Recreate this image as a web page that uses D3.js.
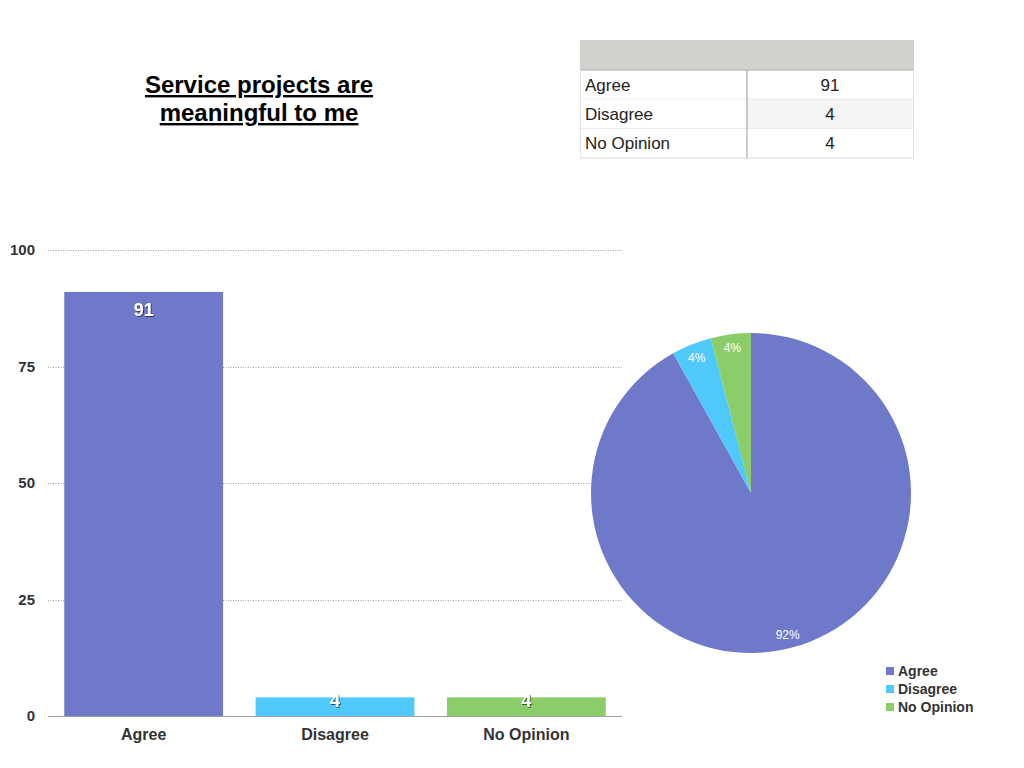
<!DOCTYPE html>
<html><head><meta charset="utf-8">
<script src="https://cdn.jsdelivr.net/npm/d3@7"></script>
<style>body{margin:0;background:#fff;} svg{display:block;font-family:"Liberation Sans",Arial,Helvetica,sans-serif;}</style>
</head><body>
<svg id="c" width="1024" height="768"></svg>
<script>
const categories = ["Agree", "Disagree", "No Opinion"];
const values = [91, 4, 4];
const pieLabels = ["92%", "4%", "4%"];
const yTicks = [0, 25, 50, 75, 100];
const colors = ["#6f79c9", "#4fc9fa", "#8bcd68"];
const titleLines = ["Service projects are", "meaningful to me"];

const svg = d3.select("#c");

// Title
const title = svg.append("text").attr("text-anchor", "middle")
  .attr("font-weight", "bold").attr("font-size", 24).attr("fill", "#000")
  .attr("text-decoration", "underline");
titleLines.forEach((t, i) => title.append("tspan").attr("x", 259).attr("y", 93 + i * 28).text(t));

// Table
const tx0 = 580, tx1 = 914, tcol = 747;
svg.append("rect").attr("x", tx0).attr("y", 40).attr("width", tx1 - tx0).attr("height", 30).attr("fill", "#d1d1cd");
const rowY = d3.scaleBand().domain(categories).range([70, 158]);
categories.forEach((c, i) => {
  const y = rowY(c), h = rowY.bandwidth();
  svg.append("rect").attr("x", tx0).attr("y", y).attr("width", tcol - tx0).attr("height", h).attr("fill", "#fff");
  svg.append("rect").attr("x", tcol).attr("y", y).attr("width", tx1 - tcol).attr("height", h).attr("fill", i === 1 ? "#f6f5f5" : "#fff");
  svg.append("line").attr("x1", tx0).attr("x2", tx1).attr("y1", y + h).attr("y2", y + h).attr("stroke", "#dcdcdc");
  svg.append("text").attr("x", 585).attr("y", y + h / 2 + 6).attr("font-size", 17).attr("fill", "#222").text(c);
  svg.append("text").attr("x", 830).attr("y", y + h / 2 + 6).attr("font-size", 17).attr("fill", "#222").attr("text-anchor", "middle").text(values[i]);
});
svg.append("line").attr("x1", tx0).attr("x2", tx1).attr("y1", 70).attr("y2", 70).attr("stroke", "#aaa");
svg.append("line").attr("x1", tcol).attr("x2", tcol).attr("y1", 70).attr("y2", 158).attr("stroke", "#999");
svg.append("line").attr("x1", tx0 + 0.5).attr("x2", tx0 + 0.5).attr("y1", 70).attr("y2", 158).attr("stroke", "#e4e4e4");
svg.append("line").attr("x1", tx1 - 0.5).attr("x2", tx1 - 0.5).attr("y1", 70).attr("y2", 158).attr("stroke", "#e4e4e4");

// Bar chart
const x = d3.scaleBand().domain(categories).range([48, 622]).paddingInner(0.17).paddingOuter(0.085);
const y = d3.scaleLinear().domain([0, 100]).range([716, 250]);

const grid = svg.append("g");
yTicks.filter(t => t > 0).forEach(t => {
  grid.append("line").attr("x1", 48).attr("x2", 622).attr("y1", Math.round(y(t)) + 0.5).attr("y2", Math.round(y(t)) + 0.5)
    .attr("stroke", "#a0a0a0").attr("stroke-width", 1).attr("stroke-dasharray", "1,1.5");
});

const yAxis = svg.append("g").attr("transform", "translate(35,0)")
  .call(d3.axisLeft(y).tickValues(yTicks).tickSize(0).tickPadding(0));
yAxis.select(".domain").remove();
yAxis.selectAll("text").attr("font-size", 15).attr("font-weight", "bold").attr("fill", "#333")
  .attr("font-family", "Liberation Sans, Arial, sans-serif");

svg.selectAll("rect.bar").data(values).enter().append("rect").attr("class", "bar")
  .attr("x", (d, i) => x(categories[i])).attr("width", x.bandwidth())
  .attr("y", d => y(d)).attr("height", d => y(0) - y(d))
  .attr("fill", (d, i) => colors[i]);

svg.append("line").attr("x1", 48).attr("x2", 622).attr("y1", 716.5).attr("y2", 716.5).attr("stroke", "#a0a0a0");

const xAxis = svg.append("g").attr("transform", "translate(0,716)")
  .call(d3.axisBottom(x).tickSize(0).tickPadding(13));
xAxis.select(".domain").remove();
xAxis.selectAll("text").attr("font-size", 16).attr("font-weight", "bold").attr("fill", "#333")
  .attr("font-family", "Liberation Sans, Arial, sans-serif");

const defs = svg.append("defs");
const f = defs.append("filter").attr("id", "sh").attr("x", "-50%").attr("y", "-50%").attr("width", "200%").attr("height", "200%");
f.append("feDropShadow").attr("dx", 0.8).attr("dy", 0.8).attr("stdDeviation", 0.6).attr("flood-color", "#000").attr("flood-opacity", 0.75);

svg.selectAll("text.bl").data(values).enter().append("text").attr("class", "bl")
  .attr("x", (d, i) => x(categories[i]) + x.bandwidth() / 2)
  .attr("y", d => d > 20 ? y(d) + 24 : y(d) + 10)
  .attr("text-anchor", "middle").attr("font-size", 18).attr("font-weight", "bold")
  .attr("fill", "#fff").attr("filter", "url(#sh)").text(d => d);

// Pie
const cx = 751, cy = 493, R = 160;
const pie = d3.pie().sort(null).value(d => d);
const arcs = pie(values);
const arc = d3.arc().innerRadius(0).outerRadius(R);
const labelArc = d3.arc().innerRadius(146).outerRadius(146);
const pg = svg.append("g").attr("transform", `translate(${cx},${cy})`);
pg.selectAll("path").data(arcs).enter().append("path").attr("d", arc)
  .attr("fill", (d, i) => colors[i]);
pg.selectAll("text").data(arcs).enter().append("text")
  .attr("transform", d => `translate(${labelArc.centroid(d)})`)
  .attr("text-anchor", "middle").attr("dy", "0.35em")
  .attr("font-size", 12).attr("fill", "#fff").text((d, i) => pieLabels[i]);

// Legend
const lg = svg.append("g");
categories.forEach((c, i) => {
  const ly = 671 + i * 18;
  lg.append("rect").attr("x", 886).attr("y", ly - 4).attr("width", 8).attr("height", 8).attr("fill", colors[i]);
  lg.append("text").attr("x", 898).attr("y", ly + 5).attr("font-size", 14).attr("font-weight", "bold").attr("fill", "#333").text(c);
});
</script>
</body></html>
